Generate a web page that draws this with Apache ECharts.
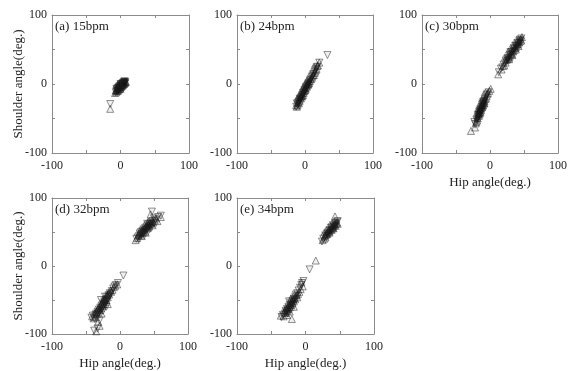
<!DOCTYPE html>
<html>
<head>
<meta charset="utf-8">
<script src="https://cdn.jsdelivr.net/npm/echarts@6/dist/echarts.min.js"></script>
<style>
  html, body { margin: 0; padding: 0; background: #fff; }
  #main { width: 573px; height: 371px; }
</style>
</head>
<body>
<div id="main"></div>
<script>
// hip angle, shoulder angle (deg.)
const aDown = [[-15,-29],[-7,-12],[-6,-10],[-5,-11],[-5,-8],[-4,-9],[-4,-6],[-3,-7],[-3,-5],[-2,-6],[-2,-4],[-1,-5],[-1,-3],[0,-4],[0,-2],[1,-3],[1,-1],[2,-2],[2,0],[3,-1],[3,1],[4,0],[4,2],[5,1],[5,3],[6,2],[6,4],[7,3],[7,1],[-6,-7],[-3,-9],[0,0],[3,-3],[5,-1],[-1,-7],[2,-4],[6,0]]
const aUp = [[-15,-36],[-8,-13],[-6,-12],[-6,-9],[-5,-10],[-4,-7],[-4,-10],[-3,-8],[-2,-5],[-2,-8],[-1,-4],[-1,-6],[0,-3],[0,-5],[1,-2],[1,-4],[2,-1],[2,-3],[3,0],[3,-2],[4,1],[4,-1],[5,2],[5,0],[6,3],[6,1],[7,4],[7,2],[8,3],[-5,-6],[-2,-2],[1,0],[4,3],[-7,-9],[0,-7]]

const bDown = [[33,42],[21,31],[-12,-28],[-13,-33],[-11,-30],[-10,-27],[-10,-29],[-9,-26],[-9,-25],[-8,-24],[-8,-22],[-7,-23],[-7,-21],[-6,-20],[-6,-22],[-5,-18],[-5,-19],[-4,-16],[-4,-17],[-3,-15],[-3,-13],[-2,-12],[-2,-14],[-1,-11],[-1,-9],[0,-10],[0,-8],[1,-7],[1,-5],[2,-6],[2,-4],[3,-3],[4,-1],[4,-2],[5,0],[5,1],[6,2],[7,3],[7,5],[8,6],[9,8],[10,10],[11,12],[12,14],[13,15],[14,18],[15,20],[16,22],[17,24],[18,25]]
const bUp = [[21,31],[19,27],[-13,-31],[-12,-33],[-11,-28],[-11,-31],[-10,-26],[-9,-28],[-8,-25],[-8,-23],[-7,-20],[-6,-21],[-6,-18],[-5,-17],[-4,-18],[-4,-14],[-3,-16],[-2,-11],[-2,-13],[-1,-10],[0,-9],[0,-6],[1,-8],[1,-6],[2,-3],[3,-4],[3,-1],[4,0],[5,-1],[5,2],[6,1],[6,4],[7,4],[8,7],[9,7],[10,9],[11,11],[12,13],[13,13],[14,16],[15,18],[16,20],[17,22],[18,26]]

const cDown = [[13,17],[16,22],[18,24],[20,28],[22,30],[23,34],[24,32],[25,36],[26,38],[27,37],[28,41],[29,43],[30,42],[31,46],[32,47],[33,45],[34,50],[35,52],[36,51],[37,55],[38,56],[39,54],[40,59],[41,60],[42,58],[43,63],[44,64],[45,62],[46,66],[26,34],[30,46],[35,48],[40,55],[44,60],
  [-23,-55],[-22,-58],[-20,-52],[-19,-50],[-18,-48],[-18,-45],[-17,-46],[-17,-43],[-16,-44],[-16,-40],[-15,-41],[-15,-38],[-14,-39],[-14,-36],[-13,-37],[-13,-34],[-12,-33],[-12,-30],[-11,-32],[-11,-28],[-10,-29],[-10,-26],[-9,-25],[-9,-27],[-8,-22],[-8,-24],[-7,-20],[-6,-18],[-5,-16],[-4,-14],[-2,-12],[-17,-50],[-14,-42],[-11,-35],[-9,-30],[-15,-45]]
const cUp = [[12,14],[17,21],[19,26],[21,27],[23,31],[24,35],[26,36],[27,40],[28,38],[29,40],[30,44],[31,43],[32,44],[33,48],[34,47],[35,49],[36,53],[37,52],[38,53],[39,57],[40,57],[41,58],[42,61],[43,60],[44,62],[45,65],[47,68],[46,63],[28,36],[33,42],[38,50],[42,55],
  [-28,-68],[-22,-63],[-21,-57],[-20,-55],[-19,-49],[-18,-50],[-18,-46],[-17,-44],[-16,-46],[-16,-42],[-15,-43],[-15,-40],[-14,-37],[-14,-41],[-13,-35],[-13,-38],[-12,-34],[-12,-31],[-11,-30],[-11,-33],[-10,-27],[-10,-31],[-9,-28],[-9,-24],[-8,-25],[-7,-22],[-6,-21],[-5,-18],[-4,-15],[-3,-13],[-1,-10],[1,-7],[-19,-53],[-16,-38],[-13,-32],[-8,-28]]

const dDown = [[47,80],[60,74],[56,72],[24,40],[26,42],[28,44],[29,48],[30,46],[31,50],[32,47],[33,52],[34,50],[35,54],[36,52],[37,56],[38,53],[39,58],[40,55],[41,60],[42,57],[43,62],[44,59],[45,64],[46,61],[48,66],[50,63],[52,68],[28,40],[35,48],[40,62],[45,56],[50,70],
  [5,-14],[-38,-95],[-33,-92],[-42,-76],[-40,-73],[-37,-78],[-36,-72],[-35,-70],[-34,-74],[-33,-67],[-32,-70],[-31,-64],[-30,-68],[-29,-61],[-28,-65],[-27,-58],[-26,-62],[-25,-55],[-24,-59],[-23,-52],[-22,-56],[-21,-50],[-20,-53],[-19,-46],[-18,-49],[-17,-43],[-16,-45],[-15,-40],[-14,-42],[-12,-37],[-10,-33],[-8,-30],[-6,-28],[-3,-25],[-30,-80],[-25,-66],[-20,-60],[-28,-50],[-22,-45]]
const dUp = [[60,72],[45,76],[23,38],[25,41],[27,45],[28,47],[30,49],[31,45],[32,51],[33,48],[34,53],[35,50],[36,55],[37,51],[38,57],[39,54],[40,59],[41,56],[42,61],[43,58],[44,63],[46,62],[47,65],[49,64],[51,67],[53,70],[55,66],[38,49],[32,44],[42,65],[48,60],
  [-35,-96],[-30,-88],[-41,-74],[-39,-77],[-37,-70],[-36,-75],[-35,-67],[-34,-71],[-33,-64],[-32,-68],[-31,-61],[-30,-65],[-29,-58],[-28,-62],[-27,-55],[-26,-59],[-25,-52],[-24,-56],[-23,-49],[-22,-53],[-21,-47],[-20,-50],[-19,-43],[-18,-46],[-17,-40],[-16,-42],[-13,-38],[-11,-35],[-9,-31],[-7,-29],[-4,-27],[-32,-82],[-27,-70],[-24,-48],[-18,-56],[-14,-36]]

const eDown = [[24,36],[26,40],[28,42],[29,45],[30,44],[31,47],[32,49],[33,48],[34,51],[35,53],[36,52],[37,56],[38,57],[39,55],[40,60],[41,59],[42,58],[43,62],[44,63],[45,60],[46,65],[33,45],[38,52],[43,57],[47,66],[6,-5],
  [-35,-75],[-33,-72],[-30,-70],[-29,-66],[-28,-68],[-27,-63],[-26,-65],[-25,-60],[-24,-62],[-23,-57],[-22,-59],[-21,-54],[-20,-56],[-19,-51],[-18,-53],[-17,-48],[-16,-50],[-15,-45],[-14,-42],[-12,-40],[-10,-36],[-8,-32],[-6,-28],[-5,-25],[-3,-22],[-26,-70],[-22,-64],[-18,-58],[-14,-48],[-24,-52],[-11,-44]]
const eUp = [[43,73],[47,62],[25,38],[27,40],[28,44],[30,46],[31,48],[32,47],[33,50],[34,52],[35,51],[36,54],[37,55],[38,53],[39,57],[40,58],[41,56],[42,60],[43,61],[44,59],[45,63],[46,64],[29,42],[35,49],[40,55],[15,8],
  [-20,-78],[-36,-73],[-32,-74],[-31,-68],[-30,-65],[-29,-69],[-28,-63],[-27,-66],[-26,-61],[-25,-64],[-24,-58],[-23,-61],[-22,-55],[-21,-58],[-20,-52],[-19,-55],[-18,-49],[-17,-52],[-16,-47],[-15,-49],[-13,-43],[-11,-41],[-9,-38],[-7,-34],[-4,-30],[-27,-72],[-23,-67],[-17,-60],[-12,-46],[-21,-48],[-6,-24]]

const panelTitles = ['(a) 15bpm', '(b) 24bpm', '(c) 30bpm', '(d) 32bpm', '(e) 34bpm']
const upSets = [aUp, bUp, cUp, dUp, eUp]
const downSets = [aDown, bDown, cDown, dDown, eDown]
const axisTicks = [-100, 0, 100]

const FONT = '"Liberation Serif", "Times New Roman", serif'
const boxes = [
  { left: 52, top: 15, width: 137, height: 138 },
  { left: 237, top: 15, width: 136, height: 138 },
  { left: 422, top: 15, width: 136, height: 138 },
  { left: 52, top: 198, width: 136, height: 137 },
  { left: 237, top: 198, width: 137, height: 137 }
]
const showY = [true, false, false, true, false]
const showX = [false, false, true, true, true]

const chart = echarts.init(document.getElementById('main'), null, { renderer: 'canvas' })

const grid = [], xAxis = [], yAxis = [], series = [], title = []
boxes.forEach((b, i) => {
  grid.push(Object.assign({ show: false }, b))
  const base = {
    type: 'value', min: -100, max: 100, interval: 50, gridIndex: i,
    splitLine: { show: false },
    axisLine: { show: true, onZero: false, lineStyle: { color: '#8a8a8a', width: 1 } },
    axisTick: { show: true, inside: true, length: 3, lineStyle: { color: '#8a8a8a' } }
  }
  const label = {
    show: true, fontFamily: FONT, fontSize: 12, color: '#222',
    formatter: v => (axisTicks.indexOf(v) >= 0 ? String(v) : '')
  }
  xAxis.push(Object.assign({}, base, {
    position: 'bottom',
    axisLabel: Object.assign({ margin: 7 }, label),
    name: showX[i] ? 'Hip angle(deg.)' : '',
    nameLocation: 'middle', nameGap: 23, nameMoveOverlap: false,
    nameTextStyle: { fontFamily: FONT, fontSize: 13, color: '#222' }
  }))
  xAxis.push(Object.assign({}, base, { position: 'top', axisLabel: { show: false } }))
  yAxis.push(Object.assign({}, base, {
    position: 'left',
    axisLabel: Object.assign({ margin: 5 }, label),
    name: showY[i] ? 'Shoulder angle(deg.)' : '',
    nameLocation: 'middle', nameGap: 27, nameMoveOverlap: false,
    nameTextStyle: { fontFamily: FONT, fontSize: 13, color: '#222' }
  }))
  yAxis.push(Object.assign({}, base, { position: 'right', axisLabel: { show: false } }))

  title.push({
    text: panelTitles[i], left: b.left + 3, top: b.top + 5,
    textStyle: { fontFamily: FONT, fontSize: 13, fontWeight: 'normal', color: '#222' },
    padding: 0
  })

  const markStyle = { color: 'rgba(0,0,0,0.08)', borderColor: 'rgba(30,30,30,0.8)', borderWidth: 0.75 }
  series.push({
    type: 'scatter', xAxisIndex: i * 2, yAxisIndex: i * 2, data: downSets[i],
    symbol: 'triangle', symbolRotate: 180, symbolSize: 7, itemStyle: markStyle, silent: true
  })
  series.push({
    type: 'scatter', xAxisIndex: i * 2, yAxisIndex: i * 2, data: upSets[i],
    symbol: 'triangle', symbolSize: 7, itemStyle: markStyle, silent: true
  })
})

chart.setOption({ animation: false, title, grid, xAxis, yAxis, series })
</script>
</body>
</html>
